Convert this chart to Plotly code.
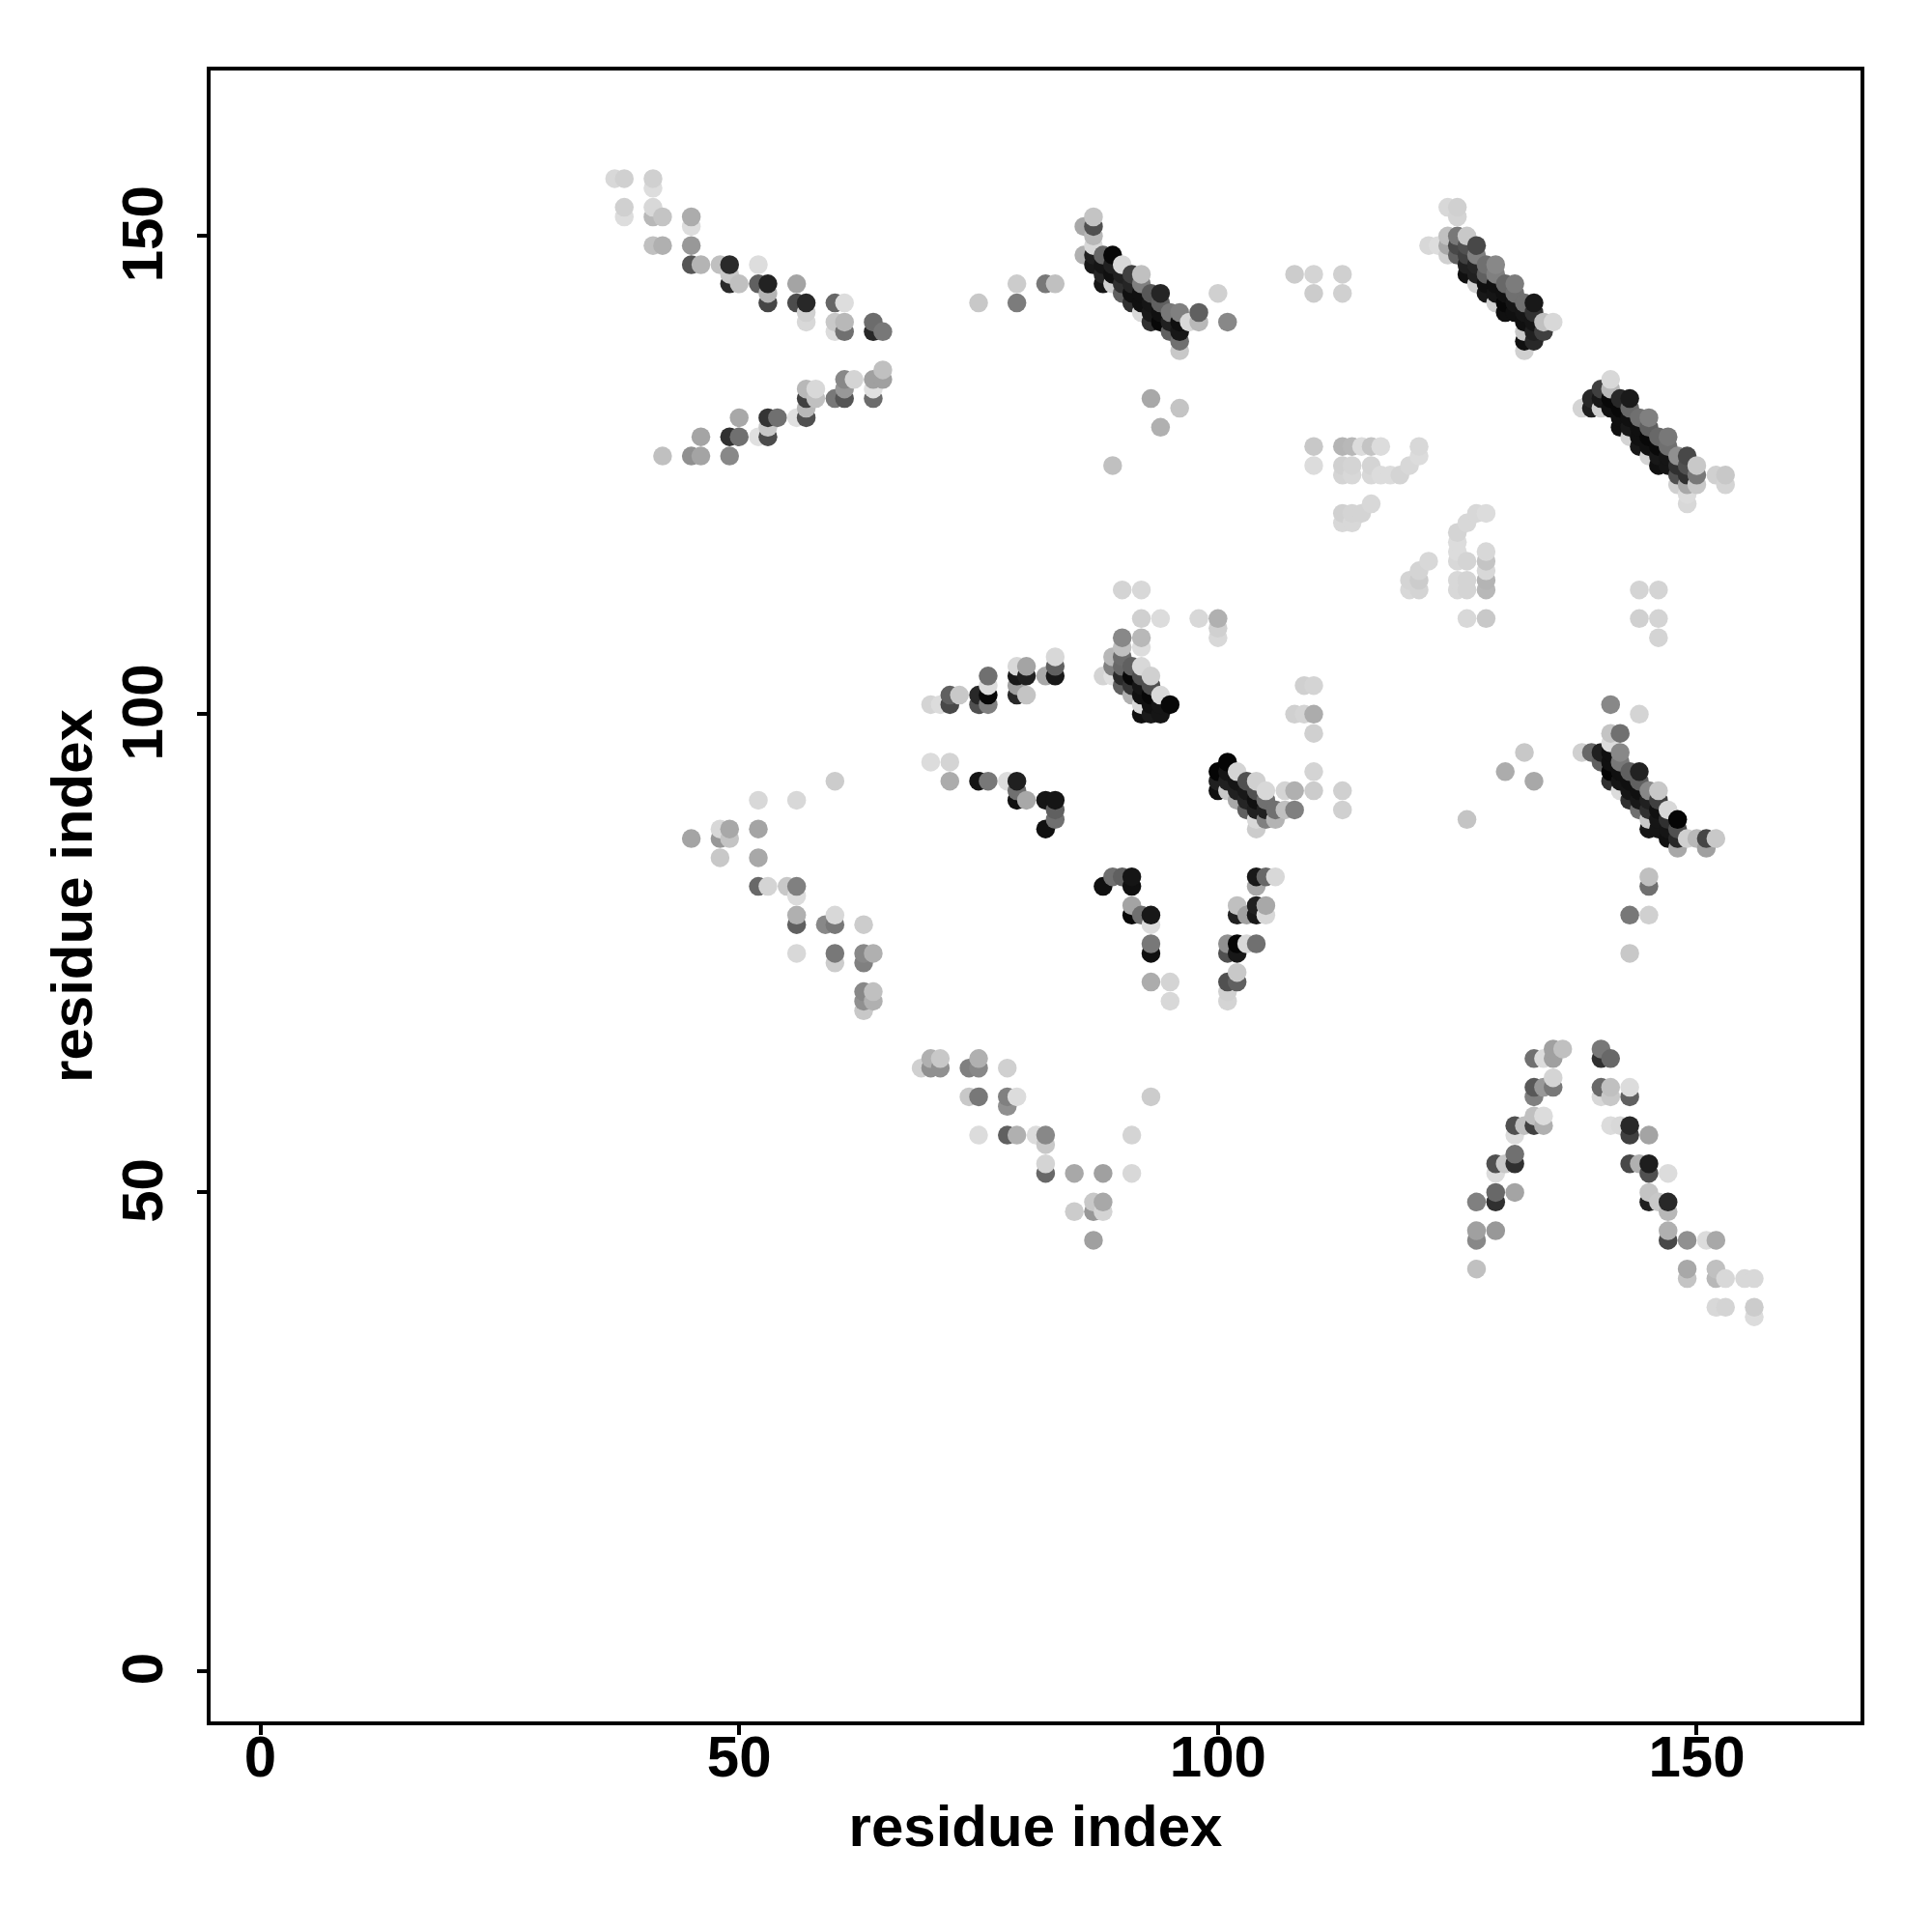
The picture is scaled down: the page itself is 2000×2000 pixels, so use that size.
import plotly.graph_objects as go

# (residue i, residue j, grey level 0-255)
upper_left = [
(37,156,0xd8),(38,156,0xd0),(38,153,0xd0),(38,152,0xdd),(41,156,0xd0),(41,155,0xdd),(41,153,0xd8),(41,152,0xb8),(41,149,0xc0),
(42,152,0xc4),(42,149,0xb0),(45,152,0xac),(45,151,0xdd),(45,149,0x98),(45,147,0x55),(46,147,0xb4),(48,147,0xc0),
(49,147,0x2a),(49,146,0xc8),(49,145,0x2a),(50,145,0xc0),(52,147,0xdd),(52,145,0x60),(53,145,0x22),(53,144,0xb4),(53,143,0x45),
(56,145,0xa4),(56,143,0x4c),(57,143,0x28),(57,142,0xd0),(57,141,0xd8),(60,143,0x66),(60,141,0xc8),(60,140,0xdc),
(61,143,0xdd),(61,141,0xb8),(61,140,0x70),(64,141,0x6c),(64,140,0x28),(65,140,0x78),
]
lower_left_arm = [
(42,127,0xc0),(45,127,0x90),(46,129,0xa4),(46,127,0xa4),(49,129,0x30),(49,127,0x88),(50,131,0xa8),(50,129,0x70),(52,129,0xe0),
(53,131,0x34),(53,130,0xc8),(53,129,0x4c),(54,131,0x70),(56,131,0xe0),(57,134,0xb8),(57,133,0x40),(57,132,0xb8),(57,131,0x50),
(58,134,0xd8),(58,133,0xc0),(60,133,0x78),(61,135,0x88),(61,134,0x98),(61,133,0x55),(62,135,0xd4),
(64,135,0xa0),(64,134,0xe0),(64,133,0x6c),(65,136,0xc0),(65,135,0xa0),
]
diag_a = [
(75,143,0xc8),(79,145,0xcc),(79,143,0x7c),(82,145,0x78),(83,145,0xc0),(86,151,0xa8),(86,148,0xb0),
(87,152,0xc4),(87,151,0x50),(87,150,0xb8),(87,149,0xd8),(87,148,0x20),(87,147,0x18),
(88,148,0x68),(88,147,0x15),(88,146,0x25),(88,145,0x15),(89,148,0x08),(89,147,0x20),(89,146,0x10),(89,145,0xd0),
(90,147,0xd8),(90,146,0x20),(90,145,0x30),(90,144,0x60),(91,146,0x40),(91,145,0x25),(91,144,0x10),(91,143,0x30),
(92,146,0xc0),(92,145,0x80),(92,144,0x10),(92,143,0x10),(92,142,0xd8),(93,144,0x58),(93,143,0x15),(93,142,0x18),(93,141,0x30),
(94,144,0x25),(94,143,0x60),(94,142,0x10),(94,141,0x08),(95,142,0x78),(95,141,0x20),(95,140,0x60),
(96,142,0x80),(96,141,0x10),(96,140,0x18),(96,139,0x70),(96,138,0xc8),(97,141,0xd8),(98,142,0x60),(98,141,0xb8),
(100,144,0xd0),(101,141,0x88),(93,133,0xa8),(94,130,0xb0),(96,132,0xc4),(89,126,0xc0),
]
diag_b = [
(108,146,0xcc),(110,146,0xd4),(110,144,0xcc),(113,146,0xd0),(113,144,0xd0),(122,149,0xd8),(123,149,0xdd),
(124,153,0xd8),(124,150,0xc0),(124,149,0xa8),(124,148,0xd0),(125,153,0xd0),(125,152,0xd4),(125,150,0x78),(125,149,0x48),(125,148,0x60),
(126,150,0xc8),(126,149,0x50),(126,148,0x40),(126,147,0x20),(126,146,0x10),(127,149,0x48),(127,148,0x80),(127,147,0x25),(127,146,0x20),(127,145,0xd0),
(128,147,0x70),(128,146,0x60),(128,145,0x10),(128,144,0x18),(129,147,0x88),(129,146,0x80),(129,145,0x10),(129,144,0x15),(129,143,0xd0),
(130,145,0x68),(130,144,0x10),(130,143,0x08),(130,142,0x10),(131,145,0x7c),(131,144,0x70),(131,143,0x15),(131,142,0x10),
(132,143,0x70),(132,142,0x15),(132,141,0x10),(132,140,0xc8),(132,139,0x10),(132,138,0xd0),
(133,143,0x18),(133,142,0x30),(133,141,0x15),(133,140,0x20),(133,139,0x28),(134,141,0xc0),(134,140,0x40),(135,141,0xd8),
]
diag_c = [
(138,132,0xd4),(139,133,0x28),(139,132,0x20),(140,134,0x40),(140,133,0x18),(140,132,0xd0),
(141,135,0xd8),(141,134,0xb8),(141,133,0x08),(141,132,0x10),(142,133,0x28),(142,132,0x08),(142,131,0x10),(142,130,0x10),
(143,133,0x1a),(143,132,0x68),(143,131,0x10),(143,130,0x18),(143,129,0xd4),(144,131,0x70),(144,130,0x10),(144,129,0x10),(144,128,0x18),
(145,131,0x80),(145,130,0x60),(145,129,0x08),(145,128,0x10),(145,127,0xd4),(146,129,0x68),(146,128,0x0a),(146,127,0x18),(146,126,0x10),
(147,129,0x78),(147,128,0x70),(147,127,0x15),(147,126,0x15),(148,127,0x90),(148,126,0x30),(148,125,0x50),(148,124,0xd0),
(149,127,0x48),(149,126,0x50),(149,125,0x30),(149,124,0xa8),(149,123,0xdc),(149,122,0xd8),(150,126,0xc8),(150,125,0x78),(150,124,0xc8),
(152,125,0xd0),(153,125,0xc8),(153,124,0xd4),
]
pale_block = [
(110,128,0xc8),(110,126,0xdc),(113,128,0xb4),(113,126,0xd0),(113,125,0xd4),(114,128,0xb8),(114,126,0xd4),(114,125,0xd8),(115,128,0xdc),
(116,128,0xc4),(116,126,0xd4),(116,125,0xd8),(117,128,0xdc),(117,125,0xdc),(118,125,0xdc),(119,125,0xd4),(120,126,0xd8),(121,128,0xd8),(121,127,0xdc),
(116,122,0xd8),(115,121,0xd4),(114,121,0xd4),(113,121,0xd0),(113,120,0xd8),(114,120,0xd8),(122,116,0xd8),(121,115,0xd4),
(120,114,0xd4),(120,113,0xd8),(121,114,0xcc),(121,113,0xd4),(125,119,0xd4),(125,118,0xdc),(125,117,0xdc),(125,116,0xd8),(125,114,0xd8),(125,113,0xd8),
(126,120,0xd8),(126,116,0xd4),(126,114,0xd4),(126,113,0xd4),(126,110,0xd8),(127,121,0xd8),(128,121,0xdc),(128,117,0xd8),(128,116,0xc4),(128,115,0xd8),
(128,114,0xb4),(128,113,0xb8),(128,110,0xc8),(144,113,0xd4),(146,113,0xd4),(144,110,0xd0),(146,110,0xd4),(146,108,0xd4),
]
mid_upper = [
(70,101,0xd4),(71,101,0xdc),(72,102,0x60),(72,101,0x48),(73,102,0xc8),(75,102,0x28),(75,101,0x50),(76,104,0x70),(76,103,0xdc),(76,102,0x08),(76,101,0x80),
(79,105,0xd8),(79,104,0x18),(79,103,0xa0),(79,102,0x28),(80,105,0xa4),(80,104,0x20),(80,102,0xc4),(82,104,0xa8),(83,106,0xd8),(83,105,0x60),(83,104,0x18),
(88,104,0xd4),(89,106,0xb8),(89,105,0x80),(89,104,0xe0),(90,108,0x88),(90,107,0xc0),(90,106,0x6c),(90,105,0x68),(90,104,0x2a),(90,103,0x60),
(91,105,0x60),(91,104,0x08),(91,103,0x35),(91,102,0xb0),(90,113,0xd4),(92,113,0xd8),(92,110,0xd0),(94,110,0xdc),(92,108,0xb8),(92,107,0xdd),
(92,105,0xd8),(92,104,0x50),(92,103,0x15),(92,102,0x10),(92,101,0xd8),(92,100,0x10),(93,104,0xd0),(93,103,0x50),(93,102,0x08),(93,101,0x10),(93,100,0x1a),
(94,102,0xd8),(94,101,0x15),(94,100,0x15),(95,101,0x08),(98,110,0xd8),(100,110,0xb0),(100,109,0xd0),(100,108,0xd8),
]
mid_lower = [
(70,95,0xdc),(72,95,0xd4),(72,93,0xac),(75,93,0x15),(76,93,0x78),(78,93,0xdc),(79,93,0x20),(79,92,0x70),(79,91,0x10),(80,91,0xa8),
(82,91,0x15),(82,88,0x10),(83,91,0x15),(83,90,0x60),(83,89,0x70),
]
diag_d = [
(100,94,0x05),(100,93,0x20),(100,92,0x10),(101,95,0x05),(101,94,0x15),(101,93,0x20),(101,92,0xc8),(102,94,0xd4),(102,93,0x15),(102,92,0x20),(102,91,0xa8),
(103,93,0x50),(103,92,0x18),(103,91,0x25),(103,90,0x60),(104,93,0xd0),(104,92,0x50),(104,91,0x10),(104,90,0x20),(104,89,0xd8),(104,88,0xcc),
(105,92,0xd8),(105,91,0x70),(105,90,0x20),(105,89,0x80),(106,90,0x70),(106,89,0xb4),(107,92,0xd4),(107,90,0xc0),(108,92,0xb0),(108,90,0x80),
(108,100,0xd0),(109,100,0xd4),(110,100,0xac),(109,103,0xd0),(110,103,0xd4),(110,98,0xd0),(110,94,0xd4),(110,92,0xcc),(113,92,0xd0),(113,90,0xd0),(126,89,0xc4),
]
vee_right = [
(104,83,0x18),(104,82,0xa8),(105,83,0x68),(106,83,0xd8),(102,80,0xc0),(102,79,0x20),(103,79,0xa0),(104,80,0x20),(104,79,0x18),(105,80,0xa8),(105,79,0xd8),
(101,76,0x90),(101,75,0x50),(102,76,0x05),(102,75,0x18),(103,76,0xd8),(104,76,0x70),(101,72,0x50),(102,73,0xc8),(102,72,0x60),(101,71,0xd0),(101,70,0xd4),
]
vee_left = [
(88,82,0x10),(89,83,0x70),(90,83,0x60),(91,83,0x15),(91,82,0x10),(91,80,0xa4),(91,79,0x08),(92,79,0x70),(93,79,0x18),(93,78,0xdc),
(93,76,0x78),(93,75,0x10),(93,72,0xac),(95,72,0xd4),(95,70,0xd8),
]
diag_e = [
(132,96,0xc8),(130,94,0xac),(133,93,0xa8),(141,101,0x88),(144,100,0xd4),(141,98,0xc4),(142,98,0x70),(141,97,0xdc),
(138,96,0xd0),(139,96,0x68),(140,96,0x20),(140,95,0x60),(141,96,0x10),(141,95,0x10),(141,94,0x05),(141,93,0x30),
(142,96,0x88),(142,95,0x78),(142,94,0x10),(142,93,0x15),(142,92,0xdc),(143,94,0x60),(143,93,0x10),(143,92,0x15),(143,91,0x30),
(144,94,0x22),(144,93,0x60),(144,92,0x10),(144,91,0x18),(144,90,0x70),(145,92,0x88),(145,91,0x20),(145,90,0x30),(145,89,0xc8),(145,88,0x15),
(146,92,0xc8),(146,91,0x40),(146,90,0x10),(146,89,0x15),(146,88,0x15),(147,90,0xd8),(147,89,0x30),(147,88,0x15),(147,87,0x10),
(148,89,0x05),(148,88,0x50),(148,87,0x28),(148,86,0xa8),(149,87,0xd0),(150,87,0xb8),(151,87,0x45),(151,86,0xa0),(152,87,0xc8),
(145,83,0xc0),(145,82,0x70),(143,79,0x78),(145,79,0xd0),(143,75,0xc8),
]
left_tail = [
(45,87,0xa4),(48,88,0xd8),(48,87,0x98),(48,85,0xc8),(49,88,0xa8),(49,87,0xc4),(52,91,0xd8),(52,88,0xa4),(52,85,0xa8),(52,82,0x68),(53,82,0xd4),(55,82,0xc8),
(56,91,0xd8),(56,82,0x80),(56,81,0xdc),(56,79,0xb0),(56,78,0x60),(56,75,0xd8),(59,78,0x88),(60,93,0xcc),(60,79,0xd8),(60,78,0x78),(60,75,0x78),(60,74,0xcc),
(63,78,0xcc),(63,75,0x88),(63,74,0x80),(63,71,0x88),(63,70,0x90),(63,69,0xc8),(64,75,0xb0),(64,71,0xc0),(64,70,0xb0),
]
low_mid = [
(69,63,0xd0),(70,64,0xb0),(70,63,0x90),(71,64,0xc8),(71,63,0x90),(74,63,0x80),(74,60,0xc8),(75,64,0xb0),(75,63,0x88),(75,60,0x78),(75,56,0xdc),
(78,63,0xd0),(78,60,0x80),(78,59,0x90),(78,56,0x60),(79,60,0xdc),(79,56,0xb0),(81,56,0xdc),(82,56,0x88),(82,55,0xc8),(82,53,0xd4),(82,52,0x68),
(85,52,0xa8),(85,48,0xcc),(87,49,0xc8),(87,48,0x98),(87,45,0xa0),(88,52,0xa0),(88,49,0xa8),(88,48,0xd4),(91,56,0xd4),(91,52,0xd8),(93,60,0xcc),
]
low_right = [
(127,49,0x80),(127,46,0xa0),(127,45,0x88),(127,42,0xc0),(129,53,0x50),(129,52,0xdc),(129,50,0x68),(129,49,0x30),(129,46,0x98),(130,53,0xc8),
(131,57,0x50),(131,56,0xdc),(131,54,0x70),(131,53,0x30),(131,50,0xa4),(132,57,0xc0),(133,64,0x70),(133,61,0x58),(133,60,0x80),(133,58,0xc0),(133,57,0x40),
(134,64,0xdc),(134,61,0x98),(134,58,0xdc),(134,57,0xb0),(135,65,0xa0),(135,64,0xa0),(135,62,0xd4),(135,61,0x78),(136,65,0xc0),
(140,65,0x78),(140,64,0x30),(140,61,0x68),(140,60,0xd8),(141,64,0x68),(141,61,0xc0),(141,60,0xc8),(141,57,0xdc),(142,57,0xd8),
(143,61,0xdc),(143,60,0x60),(143,57,0x28),(143,56,0x40),(143,53,0x48),(144,53,0xb0),(145,56,0xa4),(145,53,0x1e),(145,52,0x50),(145,50,0xc4),(145,49,0x20),
(146,49,0xc8),(147,52,0xdc),(147,49,0x28),(147,48,0xb8),(147,46,0xb0),(147,45,0x48),(149,45,0x90),(149,42,0xa8),(149,41,0xc4),(151,45,0xdc),
(152,45,0xa8),(152,42,0xc0),(152,41,0xb8),(152,38,0xd8),(153,41,0xd8),(153,38,0xd4),(155,41,0xd8),(156,41,0xd8),(156,38,0xcc),(156,37,0xdc),
]
tick_values = [0, 50, 100, 150]
axis_title = "residue index"

contacts = sorted(upper_left + lower_left_arm + diag_a + diag_b + diag_c + pale_block + mid_upper + mid_lower
                  + diag_d + vee_right + vee_left + diag_e + left_tail + low_mid + low_right,
                  key=lambda p: (p[0], p[1]))

fig = go.Figure(go.Scatter(
    x=[p[0] for p in contacts], y=[p[1] for p in contacts], mode="markers",
    marker=dict(size=19.5, color=[f"rgb({p[2]},{p[2]},{p[2]})" for p in contacts], line=dict(width=0)),
    hoverinfo="skip"))

font = dict(family="Liberation Sans", size=60, color="black", weight="bold")
common = dict(tickvals=tick_values, showgrid=False, zeroline=False, showline=True, mirror=True,
              linecolor="black", linewidth=4, ticks="outside", ticklen=10, tickwidth=3.5, tickcolor="black",
              tickfont=font)
fig.update_xaxes(range=[-5.2, 167.1], ticklabelstandoff=-29,
                 title=dict(text=axis_title, font=font, standoff=19), **common)
fig.update_yaxes(range=[-5.3, 167.3], tickangle=-90, ticklabelstandoff=12, ticklabelshift=7,
                 title=dict(text=axis_title, font=font, standoff=0), **common)
fig.update_layout(width=2000, height=2000, autosize=False, showlegend=False,
                  margin=dict(l=217.5, r=74, t=73, b=218, pad=0),
                  paper_bgcolor="white", plot_bgcolor="white")
fig.write_html("out.html", post_script="document.body.style.margin='0';",
               config={"displayModeBar": False})
